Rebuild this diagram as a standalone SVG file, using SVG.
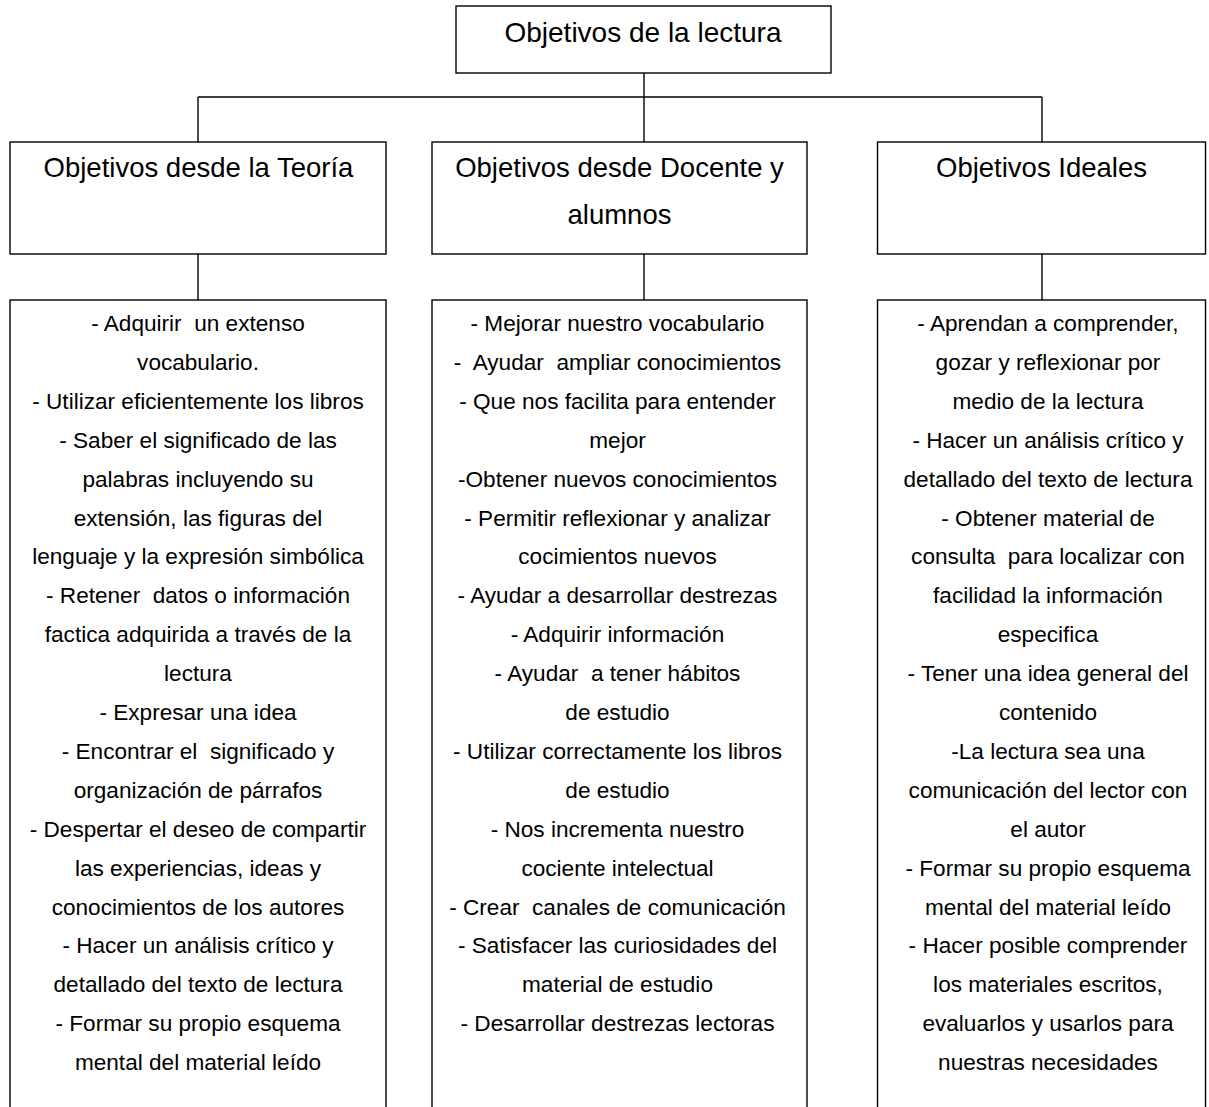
<svg xmlns="http://www.w3.org/2000/svg" width="1209" height="1107" viewBox="0 0 1209 1107">
<style>
.box{fill:#fff;stroke:#000;stroke-width:1.4}
.ln{fill:none;stroke:#000;stroke-width:1.4}
text{font-family:"Liberation Sans",Arial,sans-serif;fill:#000;text-anchor:middle;white-space:pre}
.h1{font-size:28px}
.h2{font-size:27.5px}
.b{font-size:22.6px}
</style>
<rect width="1209" height="1107" fill="#fff"/>
<g id="connectors">
<line class="ln" x1="644" y1="73" x2="644" y2="142"/>
<line class="ln" x1="198" y1="97" x2="1042" y2="97"/>
<line class="ln" x1="198" y1="97" x2="198" y2="142"/>
<line class="ln" x1="1042" y1="97" x2="1042" y2="142"/>
<line class="ln" x1="198" y1="254" x2="198" y2="300"/>
<line class="ln" x1="644" y1="254" x2="644" y2="300"/>
<line class="ln" x1="1042" y1="254" x2="1042" y2="300"/>
</g>
<g id="root">
<rect class="box" x="456" y="6" width="375" height="67"/>
<text class="h1" x="643" y="42">Objetivos de la lectura</text>
</g>
<g id="teoria">
<rect class="box" x="10" y="142" width="376" height="112"/>
<text class="h2" x="198.5" y="177">Objetivos desde la Teoría</text>
</g>
<g id="docente">
<rect class="box" x="432" y="142" width="375" height="112"/>
<text class="h2" x="619.5" y="177">Objetivos desde Docente y<tspan x="619.5" dy="47">alumnos</tspan></text>
</g>
<g id="ideales">
<rect class="box" x="877.5" y="142" width="328" height="112"/>
<text class="h2" x="1041.5" y="177">Objetivos Ideales</text>
</g>
<g id="lista-teoria">
<rect class="box" x="10" y="300" width="376" height="830"/>
<text class="b" x="198" y="331"><tspan x="198">- Adquirir  un extenso</tspan><tspan x="198" dy="38.9">vocabulario.</tspan><tspan x="198" dy="38.9">- Utilizar eficientemente los libros</tspan><tspan x="198" dy="38.9">- Saber el significado de las</tspan><tspan x="198" dy="38.9">palabras incluyendo su</tspan><tspan x="198" dy="38.9">extensión, las figuras del</tspan><tspan x="198" dy="38.9">lenguaje y la expresión simbólica</tspan><tspan x="198" dy="38.9">- Retener  datos o información</tspan><tspan x="198" dy="38.9">factica adquirida a través de la</tspan><tspan x="198" dy="38.9">lectura</tspan><tspan x="198" dy="38.9">- Expresar una idea</tspan><tspan x="198" dy="38.9">- Encontrar el  significado y</tspan><tspan x="198" dy="38.9">organización de párrafos</tspan><tspan x="198" dy="38.9">- Despertar el deseo de compartir</tspan><tspan x="198" dy="38.9">las experiencias, ideas y</tspan><tspan x="198" dy="38.9">conocimientos de los autores</tspan><tspan x="198" dy="38.9">- Hacer un análisis crítico y</tspan><tspan x="198" dy="38.9">detallado del texto de lectura</tspan><tspan x="198" dy="38.9">- Formar su propio esquema</tspan><tspan x="198" dy="38.9">mental del material leído</tspan></text>
</g>
<g id="lista-docente">
<rect class="box" x="432" y="300" width="375" height="830"/>
<text class="b" x="617.5" y="331"><tspan x="617.5">- Mejorar nuestro vocabulario</tspan><tspan x="617.5" dy="38.9">-  Ayudar  ampliar conocimientos</tspan><tspan x="617.5" dy="38.9">- Que nos facilita para entender</tspan><tspan x="617.5" dy="38.9">mejor</tspan><tspan x="617.5" dy="38.9">-Obtener nuevos conocimientos</tspan><tspan x="617.5" dy="38.9">- Permitir reflexionar y analizar</tspan><tspan x="617.5" dy="38.9">cocimientos nuevos</tspan><tspan x="617.5" dy="38.9">- Ayudar a desarrollar destrezas</tspan><tspan x="617.5" dy="38.9">- Adquirir información</tspan><tspan x="617.5" dy="38.9">- Ayudar  a tener hábitos</tspan><tspan x="617.5" dy="38.9">de estudio</tspan><tspan x="617.5" dy="38.9">- Utilizar correctamente los libros</tspan><tspan x="617.5" dy="38.9">de estudio</tspan><tspan x="617.5" dy="38.9">- Nos incrementa nuestro</tspan><tspan x="617.5" dy="38.9">cociente intelectual</tspan><tspan x="617.5" dy="38.9">- Crear  canales de comunicación</tspan><tspan x="617.5" dy="38.9">- Satisfacer las curiosidades del</tspan><tspan x="617.5" dy="38.9">material de estudio</tspan><tspan x="617.5" dy="38.9">- Desarrollar destrezas lectoras</tspan></text>
</g>
<g id="lista-ideales">
<rect class="box" x="877.5" y="300" width="328" height="830"/>
<text class="b" x="1048" y="331"><tspan x="1048">- Aprendan a comprender,</tspan><tspan x="1048" dy="38.9">gozar y reflexionar por</tspan><tspan x="1048" dy="38.9">medio de la lectura</tspan><tspan x="1048" dy="38.9">- Hacer un análisis crítico y</tspan><tspan x="1048" dy="38.9">detallado del texto de lectura</tspan><tspan x="1048" dy="38.9">- Obtener material de</tspan><tspan x="1048" dy="38.9">consulta  para localizar con</tspan><tspan x="1048" dy="38.9">facilidad la información</tspan><tspan x="1048" dy="38.9">especifica</tspan><tspan x="1048" dy="38.9">- Tener una idea general del</tspan><tspan x="1048" dy="38.9">contenido</tspan><tspan x="1048" dy="38.9">-La lectura sea una</tspan><tspan x="1048" dy="38.9">comunicación del lector con</tspan><tspan x="1048" dy="38.9">el autor</tspan><tspan x="1048" dy="38.9">- Formar su propio esquema</tspan><tspan x="1048" dy="38.9">mental del material leído</tspan><tspan x="1048" dy="38.9">- Hacer posible comprender</tspan><tspan x="1048" dy="38.9">los materiales escritos,</tspan><tspan x="1048" dy="38.9">evaluarlos y usarlos para</tspan><tspan x="1048" dy="38.9">nuestras necesidades</tspan></text>
</g>
</svg>
